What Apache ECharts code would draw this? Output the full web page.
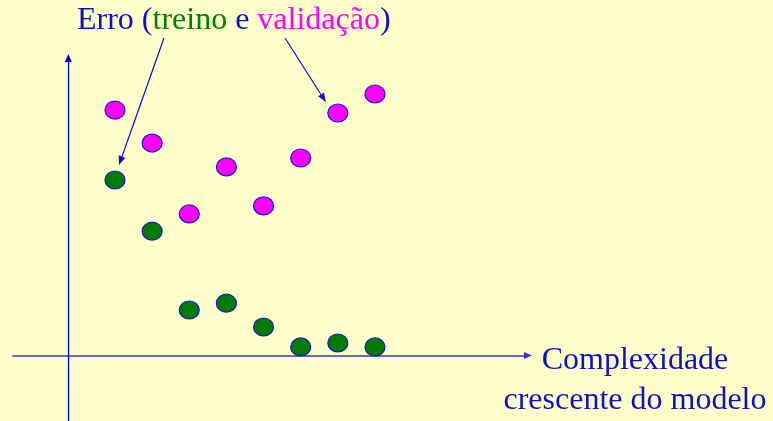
<!DOCTYPE html>
<html>
<head>
<meta charset="utf-8">
<script src="https://cdn.jsdelivr.net/npm/echarts@6/dist/echarts.min.js"></script>
<style>
  html, body { margin: 0; padding: 0; background: #FFFFCC; }
  #chart { width: 773px; height: 421px; }
</style>
</head>
<body>
<div id="chart"></div>
<script>
// complexidade do modelo (1 = mais simples)
const complexidade = [1, 2, 3, 4, 5, 6, 7, 8]
// erro de treino (verde)
const erroTreino = [5.90, 4.18, 1.53, 1.76, 0.96, 0.29, 0.42, 0.29]
// erro de validação (magenta)
const erroValidacao = [8.25, 7.14, 4.76, 6.34, 5.03, 6.64, 8.15, 8.79]

const azul = '#1010CC'
const serif = '"Liberation Serif", "DejaVu Serif", serif'
const elipse = 'path://M0,10A10,10,0,1,1,20,10A10,10,0,1,1,0,10Z'

const chart = echarts.init(document.getElementById('chart'))

// seta fina com ponta cheia
const seta = (x1, y1, x2, y2) => {
  const dx = x2 - x1, dy = y2 - y1
  const len = Math.sqrt(dx * dx + dy * dy)
  const ux = dx / len, uy = dy / len
  const bx = x2 - ux * 9, by = y2 - uy * 9
  return [
    { type: 'line', shape: { x1, y1, x2: bx, y2: by }, style: { stroke: azul, lineWidth: 1.2 } },
    { type: 'polygon', shape: { points: [[x2, y2], [bx - uy * 3.5, by + ux * 3.5], [bx + uy * 3.5, by - ux * 3.5]] },
      style: { fill: azul } }
  ]
}

const options = {
  backgroundColor: '#FFFFCC',
  animation: false,
  grid: { left: 13, right: 245, top: 58, bottom: 0 },
  xAxis: {
    type: 'value',
    min: -1.746,
    max: 12.12,
    splitLine: { show: false },
    axisTick: { show: false },
    axisLabel: { show: false },
    axisLine: {
      onZero: true,
      symbol: ['none', 'triangle'],
      symbolSize: [7, 8],
      lineStyle: { color: '#3535DD', width: 1.6 }
    }
  },
  yAxis: {
    type: 'value',
    min: -2.2,
    max: 10,
    offset: -55.3,
    splitLine: { show: false },
    axisTick: { show: false },
    axisLabel: { show: false },
    axisLine: {
      show: true,
      onZero: false,
      symbol: ['none', 'triangle'],
      symbolSize: [7, 8],
      lineStyle: { color: '#0000EE', width: 1.3 }
    }
  },
  series: [
    {
      name: 'treino',
      type: 'scatter',
      symbol: elipse,
      symbolSize: [20, 18],
      data: complexidade.map((c, i) => [c, erroTreino[i]]),
      itemStyle: { color: '#007A00', borderColor: '#1A1AD0', borderWidth: 1.2, opacity: 1 }
    },
    {
      name: 'validação',
      type: 'scatter',
      symbol: elipse,
      symbolSize: [20, 18],
      data: complexidade.map((c, i) => [c, erroValidacao[i]]),
      itemStyle: { color: '#FF00FF', borderColor: '#1A1AD0', borderWidth: 1.2, opacity: 1 }
    }
  ]
}
chart.setOption(options)

// anotações: título e setas até os pontos
const pTreino = chart.convertToPixel({ seriesIndex: 0 }, [complexidade[0], erroTreino[0]])
const pValid = chart.convertToPixel({ seriesIndex: 1 }, [complexidade[6], erroValidacao[6]])

chart.setOption({
  graphic: [
    {
      type: 'text', x: 77, y: 3,
      style: {
        text: '{b|Erro (}{g|treino}{b| e }{m|validação}{b|)}',
        verticalAlign: 'top',
        rich: {
          b: { fill: azul, font: '32px ' + serif, lineHeight: 36 },
          g: { fill: '#008000', font: '32px ' + serif, lineHeight: 36 },
          m: { fill: '#FF00FF', font: '32px ' + serif, lineHeight: 36 }
        }
      }
    },
    {
      type: 'text', x: 635, y: 341,
      style: {
        text: 'Complexidade\ncrescente do modelo',
        align: 'center', verticalAlign: 'top',
        fill: azul, font: '32px ' + serif, lineHeight: 40
      }
    },
    ...seta(164, 38, pTreino[0] + 4, pTreino[1] - 15),
    ...seta(285, 38, pValid[0] - 12, pValid[1] - 11)
  ]
})
</script>
</body>
</html>
